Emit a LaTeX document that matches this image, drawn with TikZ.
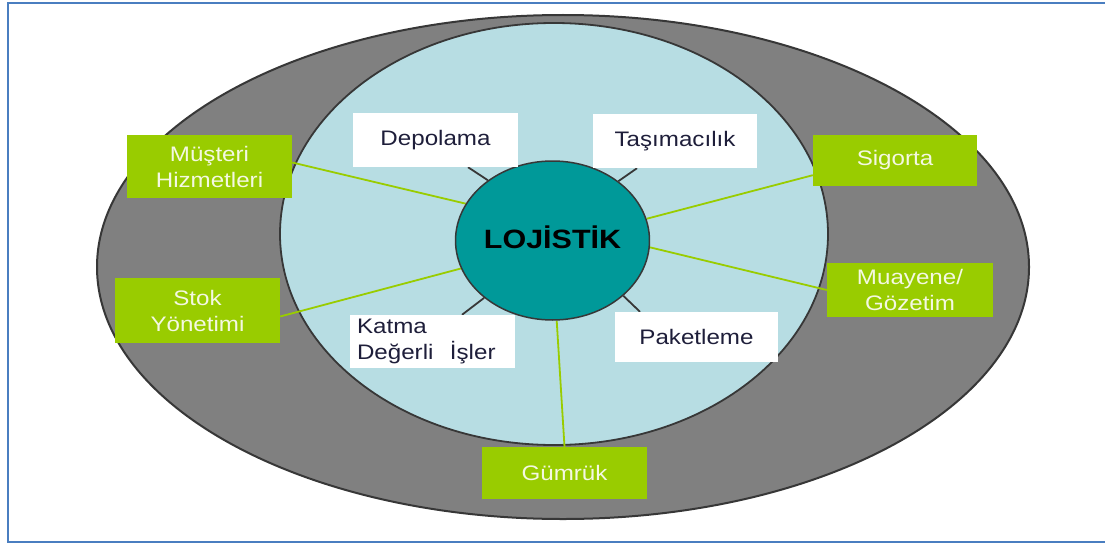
\documentclass[tikz,border=0pt]{standalone}
\usepackage{fontspec}
\setmainfont{Liberation Sans}
\newfontfamily\labfont[FakeStretch=1.15]{Liberation Sans}
\usetikzlibrary{calc,shapes.geometric}
\definecolor{frameblue}{RGB}{74,126,192}
\definecolor{ringgray}{RGB}{128,128,128}
\definecolor{edgegray}{RGB}{55,55,55}
\definecolor{paleblue}{RGB}{183,221,227}
\definecolor{teal}{RGB}{0,153,153}
\definecolor{leafgreen}{RGB}{153,204,0}
\definecolor{paletext}{RGB}{244,248,226}
\definecolor{darktext}{RGB}{30,30,58}
\pgfdeclarelayer{bg}
\pgfdeclarelayer{lines}
\pgfsetlayers{bg,lines,main}
\begin{document}
\begin{tikzpicture}[x=1pt,y=-1pt,
  lab/.style={font=\labfont\fontsize{21}{26}\selectfont},
  taskbox/.style={lab, fill=white, text=darktext, inner sep=0pt, align=center},
  servicebox/.style={lab, fill=leafgreen, text=paletext, inner sep=0pt, align=center},
  core/.style={ellipse, draw=edgegray, line width=1.5pt, fill=teal, inner sep=0pt,
    minimum width=181pt, minimum height=159pt,
    font=\labfont\bfseries\fontsize{26.5}{30}\selectfont, text=black},
  stub/.style={draw=edgegray, line width=1.8pt},
  link/.style={draw=leafgreen, line width=1.8pt}]
\useasboundingbox (0,0) rectangle (1105,543);

\begin{pgfonlayer}{bg}
  % page frame
  \draw[frameblue, line width=2pt] (7.5,3) rectangle (1115,541.5);
  % outer ring and inner field
  \draw[edgegray, line width=2pt, fill=ringgray] (563,267) ellipse [x radius=466, y radius=252];
  \draw[edgegray, line width=1.8pt, fill=paleblue] (554,234) ellipse [x radius=274, y radius=211];
\end{pgfonlayer}

% centre
\node[core] (lg) at (552.5,240.5) {\raisebox{6pt}{LOJİSTİK}};

% activities inside the field
\node[taskbox, minimum width=165pt, minimum height=54pt] (dep) at (435.5,140) {Depolama};
\node[taskbox, minimum width=164pt, minimum height=54pt] (tas) at (675,141) {Taşımacılık};
\node[taskbox, minimum width=165pt, minimum height=53pt, text width=151pt, align=left] (kat) at (432.5,341.5) {Katma\\Değerli\hspace{0.45em} İşler};
\node[taskbox, minimum width=163pt, minimum height=50pt] (pak) at (696.5,337) {\raisebox{-6pt}{Paketleme}};

% services on the ring
\node[servicebox, minimum width=165pt, minimum height=63pt] (mus) at (209.5,166.5) {Müşteri\\Hizmetleri};
\node[servicebox, minimum width=165pt, minimum height=65pt] (stok) at (197.5,310.5) {Stok\\Yönetimi};
\node[servicebox, minimum width=164pt, minimum height=51pt] (sig) at (895,160.5) {Sigorta};
\node[servicebox, minimum width=166pt, minimum height=54pt] (mua) at (910,290) {Muayene/\\Gözetim};
\node[servicebox, minimum width=165pt, minimum height=52pt] (gum) at (564.5,473) {Gümrük};

\begin{pgfonlayer}{lines}
  \draw[stub] ($(dep.south)+(32.5,0)$) -- (lg.137);
  \draw[stub] ($(tas.south)+(-38,0)$) -- (lg.42);
  \draw[stub] ($(kat.north)+(29.5,0)$) -- (lg.220);
  \draw[stub] ($(pak.north)+(-56.5,0)$) -- (lg.322);
  \draw[link] ($(mus.east)+(0,-4)$) -- (lg.157);
  \draw[link] ($(stok.east)+(0,6)$) -- (lg.197);
  \draw[link] ($(sig.south west)+(0,-11)$) -- (lg.13);
  \draw[link] (mua.west) -- (lg.-4);
  \draw[link] (gum.north) -- (lg.273);
\end{pgfonlayer}
\end{tikzpicture}
\end{document}
